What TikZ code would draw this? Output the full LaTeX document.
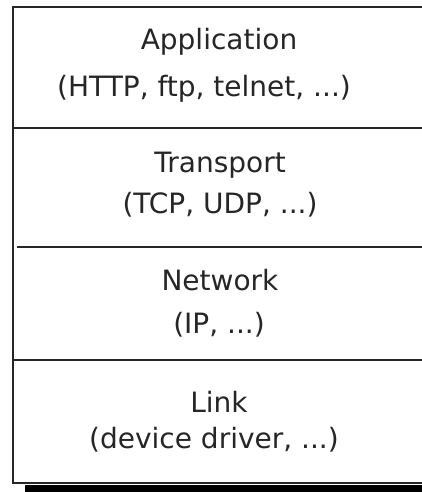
\documentclass[tikz,border=0pt]{standalone}
\usepackage{fontspec}
\setmainfont{DejaVu Sans}
\begin{document}
\begin{tikzpicture}[x=1pt,y=-1pt,
  frame/.style={line width=2pt,black!85},
  lbl/.style={anchor=base,inner sep=0pt,font=\fontsize{28}{30}\selectfont,text=black!85}]
\clip (0,0) rectangle (422,492);
\useasboundingbox (0,0) rectangle (422,492);
\fill[white] (0,0) rectangle (422,492);
% shadow
\fill[black] (25,485) rectangle (440,492);
% frame
\draw[frame] (13,7) rectangle (426,483);
\draw[frame] (13,128) -- (426,128);
\draw[frame] (17,247) -- (426,247);
\draw[frame] (13,360) -- (426,360);
% labels
\node[lbl] (app)  at (219,50)  {Application};
\node[lbl] (appx) at (204,97)  {(HTTP, ftp, telnet, ...)};
\node[lbl] (tr)   at (220,172) {Transport};
\node[lbl] (trx)  at (220,213) {(TCP, UDP, ...)};
\node[lbl] (net)  at (220,290) {Network};
\node[lbl] (netx) at (219,333) {(IP, ...)};
\node[lbl] (lnk)  at (219,412) {Link};
\node[lbl] (lnkx) at (214,448) {(device driver, ...)};
\end{tikzpicture}
\end{document}
